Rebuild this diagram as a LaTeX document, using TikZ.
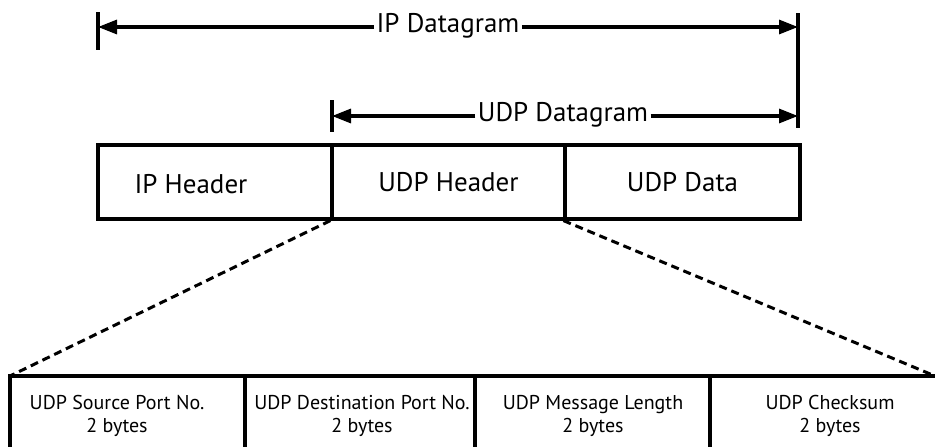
\documentclass[tikz,border=0pt]{standalone}
\usepackage{fontspec}
\setmainfont{PT Sans}
\usetikzlibrary{arrows.meta}
\begin{document}
\begin{tikzpicture}[x=1pt,y=-1pt,line width=3.2pt,
  ar/.style={-{Triangle[length=19pt,width=14pt]}},
  lab/.style={font=\fontsize{27}{32}\selectfont,inner sep=1pt},
  box/.style={draw,minimum height=74pt,inner sep=0pt,font=\fontsize{27}{32}\selectfont},
  small/.style={font=\fontsize{20}{23.5}\selectfont,align=center,inner sep=0pt},
  cut/.style={line width=3pt,dash pattern=on 8pt off 5pt}]
\useasboundingbox (0,0) rectangle (935,447);
% dimension ticks
\coordinate (t1a) at (98,12);  \coordinate (t1b) at (98,50);
\coordinate (t2a) at (798,13); \coordinate (t2b) at (798,128);
\coordinate (t3a) at (332,100);\coordinate (t3b) at (332,132);
\draw (t1a) -- (t1b);
\draw (t2a) -- (t2b);
\draw (t3a) -- (t3b);
% IP datagram arrow
\coordinate (ipL) at (98,27);
\coordinate (ipR) at (798,27);
\node[lab] (iplab) at (448,26) {IP Datagram};
\draw[ar] (iplab.west |- ipL) -- (ipL);
\draw[ar] (iplab.east |- ipR) -- (ipR);
% UDP datagram arrow
\coordinate (udL) at (332,116);
\coordinate (udR) at (798,116);
\node[lab] (udlab) at (563,115) {UDP Datagram};
\draw[ar] (udlab.west |- udL) -- (udL);
\draw[ar] (udlab.east |- udR) -- (udR);
% top row boxes
\node[box,minimum width=234pt] (iph) at (215,182) {};
\node[lab] (iphtxt) at (191,184) {IP Header};
\node[box,minimum width=233pt] (udph) at (448.5,182) {UDP Header};
\node[box,minimum width=235pt] (udpd) at (682.5,182) {UDP Data};
% bottom row
\coordinate (b0) at (10,376);
\coordinate (b1) at (245,376);
\coordinate (b2) at (475,376);
\coordinate (b3) at (710,376);
\coordinate (b4) at (935,376);
\coordinate (e0) at (10,450);
\coordinate (e1) at (245,450);
\coordinate (e2) at (475,450);
\coordinate (e3) at (710,450);
\draw (b4) -- (b0) -- (e0);
\draw (b1) -- (e1);
\draw (b2) -- (e2);
\draw (b3) -- (e3);
\draw[cut] (udph.south west) -- (b0);
\draw[cut] (udpd.south west) -- (b4);
\node[small] (f1) at (117,416) {UDP Source Port No.\\2 bytes};
\node[small] (f2) at (362,416) {UDP Destination Port No.\\2 bytes};
\node[small] (f3) at (593,416) {UDP Message Length\\2 bytes};
\node[small] (f4) at (830,416) {UDP Checksum\\2 bytes};
\end{tikzpicture}
\end{document}
